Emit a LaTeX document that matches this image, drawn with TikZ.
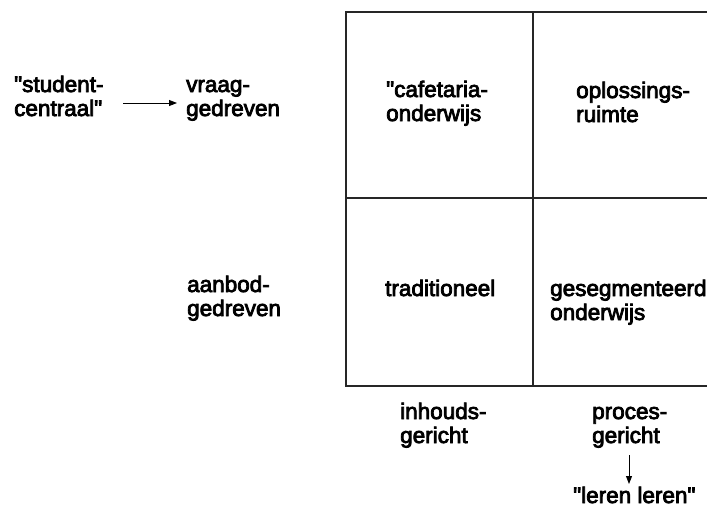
\documentclass[tikz,border=0pt]{standalone}
\usepackage{fontspec}
\newfontfamily\hv{Liberation Sans}[FakeBold=3.5]
\usetikzlibrary{arrows.meta}
\begin{document}
\begin{tikzpicture}[x=1pt,y=-1pt,
  lbl/.style={anchor=base west,inner sep=0pt,align=left,font=\hv\fontsize{22.5}{24}\selectfont},
  grid/.style={line width=1.2pt,draw=black!85},
  arr/.style={line width=0.9pt,-{Triangle[length=8pt,width=6pt]}}]
\useasboundingbox (0,0) rectangle (707,507);
% grid
\draw[grid] (707,12) -- (346,12) -- (346,386) -- (707,386);
\draw[grid] (346,198) -- (707,198);
\draw[grid] (533,12) -- (533,386);
% labels (base anchor = baseline of last line)
\node[lbl] (st) at (14,116) {"student-\\centraal"};
\node[lbl] (vr) at (186,116) {vraag-\\gedreven};
\node[lbl] (ab) at (187,316) {aanbod-\\gedreven};
\node[lbl] (cf) at (386,121) {"cafetaria-\\onderwijs};
\node[lbl] (op) at (576,122) {oplossings-\\ruimte};
\node[lbl] (tr) at (385,296) {traditioneel};
\node[lbl] (gs) at (550,320) {gesegmenteerd\\onderwijs};
\node[lbl] (ih) at (400,443) {inhouds-\\gericht};
\node[lbl] (pr) at (592,443) {proces-\\gericht};
\node[lbl] (ll) at (573,503) {"leren leren"};
% arrows
\coordinate (a1) at (123,103);
\coordinate (a2) at (177,103);
\draw[arr] (a1) -- (a2);
\coordinate (b1) at (629,455);
\coordinate (b2) at (629,484);
\draw[arr] (b1) -- (b2);
\end{tikzpicture}
\end{document}
